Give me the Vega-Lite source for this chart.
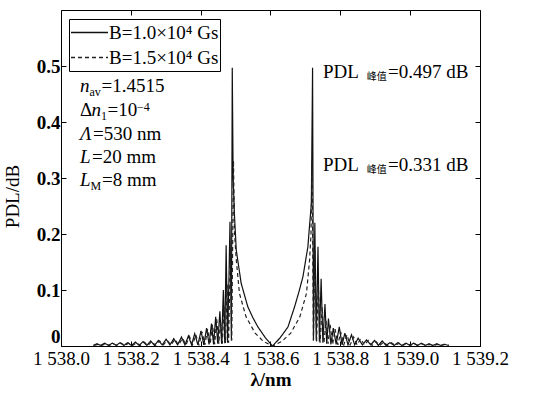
{
  "$schema": "https://vega.github.io/schema/vega-lite/v6.json",
  "width": 419,
  "height": 336,
  "autosize": "none",
  "padding": {"left": 61, "top": 10, "right": 56, "bottom": 48},
  "background": "white",
  "config": {
    "view": {"stroke": null},
    "font": "Liberation Serif",
    "axis": {"labelFont": "Liberation Serif", "titleFont": "Liberation Serif", "labelColor": "#000", "titleColor": "#000", "domainColor": "#000", "tickColor": "#000", "grid": false, "labelFontSize": 19, "titleFontSize": 19, "titleFontWeight": "normal"},
    "legend": {"orient": "none", "legendX": 8, "legendY": 9, "labelFont": "Liberation Serif", "labelFontSize": 19, "labelColor": "#000", "symbolType": "stroke", "symbolSize": 1369, "symbolStrokeWidth": 1.3, "strokeColor": "#000", "padding": 1, "rowPadding": 0, "clipHeight": 25, "labelOffset": 0, "cornerRadius": 0}
  },
  "datasets": {
    "curves": [
      {"lambda": 1538.092, "pdl": 0.001, "B": "B=1.0×10⁴ Gs"},
      {"lambda": 1538.103, "pdl": 0.004, "B": "B=1.0×10⁴ Gs"},
      {"lambda": 1538.114, "pdl": 0.001, "B": "B=1.0×10⁴ Gs"},
      {"lambda": 1538.125, "pdl": 0.005, "B": "B=1.0×10⁴ Gs"},
      {"lambda": 1538.136, "pdl": 0.001, "B": "B=1.0×10⁴ Gs"},
      {"lambda": 1538.147, "pdl": 0.005, "B": "B=1.0×10⁴ Gs"},
      {"lambda": 1538.158, "pdl": 0.001, "B": "B=1.0×10⁴ Gs"},
      {"lambda": 1538.169, "pdl": 0.006, "B": "B=1.0×10⁴ Gs"},
      {"lambda": 1538.180, "pdl": 0.001, "B": "B=1.0×10⁴ Gs"},
      {"lambda": 1538.191, "pdl": 0.006, "B": "B=1.0×10⁴ Gs"},
      {"lambda": 1538.202, "pdl": 0.001, "B": "B=1.0×10⁴ Gs"},
      {"lambda": 1538.213, "pdl": 0.007, "B": "B=1.0×10⁴ Gs"},
      {"lambda": 1538.224, "pdl": 0.001, "B": "B=1.0×10⁴ Gs"},
      {"lambda": 1538.235, "pdl": 0.008, "B": "B=1.0×10⁴ Gs"},
      {"lambda": 1538.246, "pdl": 0.001, "B": "B=1.0×10⁴ Gs"},
      {"lambda": 1538.257, "pdl": 0.009, "B": "B=1.0×10⁴ Gs"},
      {"lambda": 1538.268, "pdl": 0.001, "B": "B=1.0×10⁴ Gs"},
      {"lambda": 1538.279, "pdl": 0.010, "B": "B=1.0×10⁴ Gs"},
      {"lambda": 1538.290, "pdl": 0.002, "B": "B=1.0×10⁴ Gs"},
      {"lambda": 1538.301, "pdl": 0.012, "B": "B=1.0×10⁴ Gs"},
      {"lambda": 1538.312, "pdl": 0.002, "B": "B=1.0×10⁴ Gs"},
      {"lambda": 1538.323, "pdl": 0.013, "B": "B=1.0×10⁴ Gs"},
      {"lambda": 1538.334, "pdl": 0.002, "B": "B=1.0×10⁴ Gs"},
      {"lambda": 1538.345, "pdl": 0.016, "B": "B=1.0×10⁴ Gs"},
      {"lambda": 1538.355, "pdl": 0.002, "B": "B=1.0×10⁴ Gs"},
      {"lambda": 1538.365, "pdl": 0.018, "B": "B=1.0×10⁴ Gs"},
      {"lambda": 1538.374, "pdl": 0.002, "B": "B=1.0×10⁴ Gs"},
      {"lambda": 1538.383, "pdl": 0.022, "B": "B=1.0×10⁴ Gs"},
      {"lambda": 1538.392, "pdl": 0.002, "B": "B=1.0×10⁴ Gs"},
      {"lambda": 1538.401, "pdl": 0.027, "B": "B=1.0×10⁴ Gs"},
      {"lambda": 1538.409, "pdl": 0.002, "B": "B=1.0×10⁴ Gs"},
      {"lambda": 1538.417, "pdl": 0.032, "B": "B=1.0×10⁴ Gs"},
      {"lambda": 1538.424, "pdl": 0.003, "B": "B=1.0×10⁴ Gs"},
      {"lambda": 1538.431, "pdl": 0.040, "B": "B=1.0×10⁴ Gs"},
      {"lambda": 1538.437, "pdl": 0.003, "B": "B=1.0×10⁴ Gs"},
      {"lambda": 1538.443, "pdl": 0.052, "B": "B=1.0×10⁴ Gs"},
      {"lambda": 1538.449, "pdl": 0.004, "B": "B=1.0×10⁴ Gs"},
      {"lambda": 1538.455, "pdl": 0.062, "B": "B=1.0×10⁴ Gs"},
      {"lambda": 1538.460, "pdl": 0.004, "B": "B=1.0×10⁴ Gs"},
      {"lambda": 1538.465, "pdl": 0.100, "B": "B=1.0×10⁴ Gs"},
      {"lambda": 1538.469, "pdl": 0.005, "B": "B=1.0×10⁴ Gs"},
      {"lambda": 1538.473, "pdl": 0.180, "B": "B=1.0×10⁴ Gs"},
      {"lambda": 1538.477, "pdl": 0.006, "B": "B=1.0×10⁴ Gs"},
      {"lambda": 1538.481, "pdl": 0.120, "B": "B=1.0×10⁴ Gs"},
      {"lambda": 1538.484, "pdl": 0.222, "B": "B=1.0×10⁴ Gs"},
      {"lambda": 1538.488, "pdl": 0.010, "B": "B=1.0×10⁴ Gs"},
      {"lambda": 1538.4905, "pdl": 0.497, "B": "B=1.0×10⁴ Gs"},
      {"lambda": 1538.493, "pdl": 0.300, "B": "B=1.0×10⁴ Gs"},
      {"lambda": 1538.497, "pdl": 0.231, "B": "B=1.0×10⁴ Gs"},
      {"lambda": 1538.502, "pdl": 0.171, "B": "B=1.0×10⁴ Gs"},
      {"lambda": 1538.516, "pdl": 0.112, "B": "B=1.0×10⁴ Gs"},
      {"lambda": 1538.535, "pdl": 0.070, "B": "B=1.0×10⁴ Gs"},
      {"lambda": 1538.550, "pdl": 0.050, "B": "B=1.0×10⁴ Gs"},
      {"lambda": 1538.564, "pdl": 0.034, "B": "B=1.0×10⁴ Gs"},
      {"lambda": 1538.585, "pdl": 0.015, "B": "B=1.0×10⁴ Gs"},
      {"lambda": 1538.606, "pdl": 0.000, "B": "B=1.0×10⁴ Gs"},
      {"lambda": 1538.628, "pdl": 0.015, "B": "B=1.0×10⁴ Gs"},
      {"lambda": 1538.650, "pdl": 0.034, "B": "B=1.0×10⁴ Gs"},
      {"lambda": 1538.669, "pdl": 0.070, "B": "B=1.0×10⁴ Gs"},
      {"lambda": 1538.682, "pdl": 0.098, "B": "B=1.0×10⁴ Gs"},
      {"lambda": 1538.693, "pdl": 0.124, "B": "B=1.0×10⁴ Gs"},
      {"lambda": 1538.707, "pdl": 0.177, "B": "B=1.0×10⁴ Gs"},
      {"lambda": 1538.717, "pdl": 0.255, "B": "B=1.0×10⁴ Gs"},
      {"lambda": 1538.7205, "pdl": 0.497, "B": "B=1.0×10⁴ Gs"},
      {"lambda": 1538.723, "pdl": 0.010, "B": "B=1.0×10⁴ Gs"},
      {"lambda": 1538.727, "pdl": 0.220, "B": "B=1.0×10⁴ Gs"},
      {"lambda": 1538.731, "pdl": 0.010, "B": "B=1.0×10⁴ Gs"},
      {"lambda": 1538.736, "pdl": 0.177, "B": "B=1.0×10⁴ Gs"},
      {"lambda": 1538.740, "pdl": 0.008, "B": "B=1.0×10⁴ Gs"},
      {"lambda": 1538.745, "pdl": 0.120, "B": "B=1.0×10⁴ Gs"},
      {"lambda": 1538.750, "pdl": 0.006, "B": "B=1.0×10⁴ Gs"},
      {"lambda": 1538.756, "pdl": 0.075, "B": "B=1.0×10⁴ Gs"},
      {"lambda": 1538.761, "pdl": 0.004, "B": "B=1.0×10⁴ Gs"},
      {"lambda": 1538.766, "pdl": 0.049, "B": "B=1.0×10⁴ Gs"},
      {"lambda": 1538.773, "pdl": 0.003, "B": "B=1.0×10⁴ Gs"},
      {"lambda": 1538.780, "pdl": 0.032, "B": "B=1.0×10⁴ Gs"},
      {"lambda": 1538.788, "pdl": 0.003, "B": "B=1.0×10⁴ Gs"},
      {"lambda": 1538.797, "pdl": 0.034, "B": "B=1.0×10⁴ Gs"},
      {"lambda": 1538.805, "pdl": 0.002, "B": "B=1.0×10⁴ Gs"},
      {"lambda": 1538.813, "pdl": 0.023, "B": "B=1.0×10⁴ Gs"},
      {"lambda": 1538.822, "pdl": 0.002, "B": "B=1.0×10⁴ Gs"},
      {"lambda": 1538.832, "pdl": 0.020, "B": "B=1.0×10⁴ Gs"},
      {"lambda": 1538.841, "pdl": 0.002, "B": "B=1.0×10⁴ Gs"},
      {"lambda": 1538.851, "pdl": 0.014, "B": "B=1.0×10⁴ Gs"},
      {"lambda": 1538.863, "pdl": 0.002, "B": "B=1.0×10⁴ Gs"},
      {"lambda": 1538.875, "pdl": 0.011, "B": "B=1.0×10⁴ Gs"},
      {"lambda": 1538.887, "pdl": 0.002, "B": "B=1.0×10⁴ Gs"},
      {"lambda": 1538.898, "pdl": 0.010, "B": "B=1.0×10⁴ Gs"},
      {"lambda": 1538.909, "pdl": 0.001, "B": "B=1.0×10⁴ Gs"},
      {"lambda": 1538.920, "pdl": 0.009, "B": "B=1.0×10⁴ Gs"},
      {"lambda": 1538.931, "pdl": 0.001, "B": "B=1.0×10⁴ Gs"},
      {"lambda": 1538.942, "pdl": 0.006, "B": "B=1.0×10⁴ Gs"},
      {"lambda": 1538.954, "pdl": 0.001, "B": "B=1.0×10⁴ Gs"},
      {"lambda": 1538.965, "pdl": 0.006, "B": "B=1.0×10⁴ Gs"},
      {"lambda": 1538.976, "pdl": 0.001, "B": "B=1.0×10⁴ Gs"},
      {"lambda": 1538.988, "pdl": 0.005, "B": "B=1.0×10⁴ Gs"},
      {"lambda": 1538.999, "pdl": 0.001, "B": "B=1.0×10⁴ Gs"},
      {"lambda": 1539.010, "pdl": 0.005, "B": "B=1.0×10⁴ Gs"},
      {"lambda": 1539.021, "pdl": 0.001, "B": "B=1.0×10⁴ Gs"},
      {"lambda": 1539.032, "pdl": 0.005, "B": "B=1.0×10⁴ Gs"},
      {"lambda": 1539.043, "pdl": 0.001, "B": "B=1.0×10⁴ Gs"},
      {"lambda": 1539.054, "pdl": 0.004, "B": "B=1.0×10⁴ Gs"},
      {"lambda": 1539.065, "pdl": 0.001, "B": "B=1.0×10⁴ Gs"},
      {"lambda": 1539.076, "pdl": 0.004, "B": "B=1.0×10⁴ Gs"},
      {"lambda": 1539.087, "pdl": 0.001, "B": "B=1.0×10⁴ Gs"},
      {"lambda": 1539.098, "pdl": 0.003, "B": "B=1.0×10⁴ Gs"},
      {"lambda": 1539.110, "pdl": 0.001, "B": "B=1.0×10⁴ Gs"},

      {"lambda": 1538.095, "pdl": 0.001, "B": "B=1.5×10⁴ Gs"},
      {"lambda": 1538.106, "pdl": 0.003, "B": "B=1.5×10⁴ Gs"},
      {"lambda": 1538.117, "pdl": 0.001, "B": "B=1.5×10⁴ Gs"},
      {"lambda": 1538.128, "pdl": 0.004, "B": "B=1.5×10⁴ Gs"},
      {"lambda": 1538.139, "pdl": 0.001, "B": "B=1.5×10⁴ Gs"},
      {"lambda": 1538.150, "pdl": 0.004, "B": "B=1.5×10⁴ Gs"},
      {"lambda": 1538.161, "pdl": 0.001, "B": "B=1.5×10⁴ Gs"},
      {"lambda": 1538.172, "pdl": 0.005, "B": "B=1.5×10⁴ Gs"},
      {"lambda": 1538.183, "pdl": 0.001, "B": "B=1.5×10⁴ Gs"},
      {"lambda": 1538.194, "pdl": 0.005, "B": "B=1.5×10⁴ Gs"},
      {"lambda": 1538.205, "pdl": 0.001, "B": "B=1.5×10⁴ Gs"},
      {"lambda": 1538.216, "pdl": 0.006, "B": "B=1.5×10⁴ Gs"},
      {"lambda": 1538.227, "pdl": 0.001, "B": "B=1.5×10⁴ Gs"},
      {"lambda": 1538.238, "pdl": 0.007, "B": "B=1.5×10⁴ Gs"},
      {"lambda": 1538.249, "pdl": 0.001, "B": "B=1.5×10⁴ Gs"},
      {"lambda": 1538.260, "pdl": 0.008, "B": "B=1.5×10⁴ Gs"},
      {"lambda": 1538.271, "pdl": 0.001, "B": "B=1.5×10⁴ Gs"},
      {"lambda": 1538.282, "pdl": 0.009, "B": "B=1.5×10⁴ Gs"},
      {"lambda": 1538.293, "pdl": 0.002, "B": "B=1.5×10⁴ Gs"},
      {"lambda": 1538.304, "pdl": 0.010, "B": "B=1.5×10⁴ Gs"},
      {"lambda": 1538.315, "pdl": 0.002, "B": "B=1.5×10⁴ Gs"},
      {"lambda": 1538.326, "pdl": 0.012, "B": "B=1.5×10⁴ Gs"},
      {"lambda": 1538.337, "pdl": 0.002, "B": "B=1.5×10⁴ Gs"},
      {"lambda": 1538.348, "pdl": 0.014, "B": "B=1.5×10⁴ Gs"},
      {"lambda": 1538.358, "pdl": 0.002, "B": "B=1.5×10⁴ Gs"},
      {"lambda": 1538.368, "pdl": 0.017, "B": "B=1.5×10⁴ Gs"},
      {"lambda": 1538.377, "pdl": 0.002, "B": "B=1.5×10⁴ Gs"},
      {"lambda": 1538.386, "pdl": 0.020, "B": "B=1.5×10⁴ Gs"},
      {"lambda": 1538.395, "pdl": 0.002, "B": "B=1.5×10⁴ Gs"},
      {"lambda": 1538.404, "pdl": 0.025, "B": "B=1.5×10⁴ Gs"},
      {"lambda": 1538.412, "pdl": 0.002, "B": "B=1.5×10⁴ Gs"},
      {"lambda": 1538.420, "pdl": 0.030, "B": "B=1.5×10⁴ Gs"},
      {"lambda": 1538.427, "pdl": 0.003, "B": "B=1.5×10⁴ Gs"},
      {"lambda": 1538.434, "pdl": 0.038, "B": "B=1.5×10⁴ Gs"},
      {"lambda": 1538.440, "pdl": 0.003, "B": "B=1.5×10⁴ Gs"},
      {"lambda": 1538.446, "pdl": 0.048, "B": "B=1.5×10⁴ Gs"},
      {"lambda": 1538.452, "pdl": 0.004, "B": "B=1.5×10⁴ Gs"},
      {"lambda": 1538.457, "pdl": 0.045, "B": "B=1.5×10⁴ Gs"},
      {"lambda": 1538.462, "pdl": 0.004, "B": "B=1.5×10⁴ Gs"},
      {"lambda": 1538.467, "pdl": 0.070, "B": "B=1.5×10⁴ Gs"},
      {"lambda": 1538.471, "pdl": 0.005, "B": "B=1.5×10⁴ Gs"},
      {"lambda": 1538.476, "pdl": 0.110, "B": "B=1.5×10⁴ Gs"},
      {"lambda": 1538.480, "pdl": 0.006, "B": "B=1.5×10⁴ Gs"},
      {"lambda": 1538.485, "pdl": 0.170, "B": "B=1.5×10⁴ Gs"},
      {"lambda": 1538.489, "pdl": 0.010, "B": "B=1.5×10⁴ Gs"},
      {"lambda": 1538.494, "pdl": 0.331, "B": "B=1.5×10⁴ Gs"},
      {"lambda": 1538.497, "pdl": 0.200, "B": "B=1.5×10⁴ Gs"},
      {"lambda": 1538.502, "pdl": 0.154, "B": "B=1.5×10⁴ Gs"},
      {"lambda": 1538.511, "pdl": 0.094, "B": "B=1.5×10⁴ Gs"},
      {"lambda": 1538.530, "pdl": 0.052, "B": "B=1.5×10⁴ Gs"},
      {"lambda": 1538.556, "pdl": 0.023, "B": "B=1.5×10⁴ Gs"},
      {"lambda": 1538.580, "pdl": 0.008, "B": "B=1.5×10⁴ Gs"},
      {"lambda": 1538.606, "pdl": 0.000, "B": "B=1.5×10⁴ Gs"},
      {"lambda": 1538.632, "pdl": 0.008, "B": "B=1.5×10⁴ Gs"},
      {"lambda": 1538.658, "pdl": 0.023, "B": "B=1.5×10⁴ Gs"},
      {"lambda": 1538.684, "pdl": 0.052, "B": "B=1.5×10⁴ Gs"},
      {"lambda": 1538.703, "pdl": 0.094, "B": "B=1.5×10⁴ Gs"},
      {"lambda": 1538.712, "pdl": 0.154, "B": "B=1.5×10⁴ Gs"},
      {"lambda": 1538.716, "pdl": 0.200, "B": "B=1.5×10⁴ Gs"},
      {"lambda": 1538.719, "pdl": 0.331, "B": "B=1.5×10⁴ Gs"},
      {"lambda": 1538.723, "pdl": 0.010, "B": "B=1.5×10⁴ Gs"},
      {"lambda": 1538.727, "pdl": 0.170, "B": "B=1.5×10⁴ Gs"},
      {"lambda": 1538.732, "pdl": 0.008, "B": "B=1.5×10⁴ Gs"},
      {"lambda": 1538.737, "pdl": 0.110, "B": "B=1.5×10⁴ Gs"},
      {"lambda": 1538.742, "pdl": 0.006, "B": "B=1.5×10⁴ Gs"},
      {"lambda": 1538.748, "pdl": 0.070, "B": "B=1.5×10⁴ Gs"},
      {"lambda": 1538.753, "pdl": 0.005, "B": "B=1.5×10⁴ Gs"},
      {"lambda": 1538.759, "pdl": 0.045, "B": "B=1.5×10⁴ Gs"},
      {"lambda": 1538.765, "pdl": 0.004, "B": "B=1.5×10⁴ Gs"},
      {"lambda": 1538.771, "pdl": 0.038, "B": "B=1.5×10⁴ Gs"},
      {"lambda": 1538.778, "pdl": 0.003, "B": "B=1.5×10⁴ Gs"},
      {"lambda": 1538.785, "pdl": 0.030, "B": "B=1.5×10⁴ Gs"},
      {"lambda": 1538.793, "pdl": 0.002, "B": "B=1.5×10⁴ Gs"},
      {"lambda": 1538.801, "pdl": 0.025, "B": "B=1.5×10⁴ Gs"},
      {"lambda": 1538.810, "pdl": 0.002, "B": "B=1.5×10⁴ Gs"},
      {"lambda": 1538.819, "pdl": 0.020, "B": "B=1.5×10⁴ Gs"},
      {"lambda": 1538.828, "pdl": 0.002, "B": "B=1.5×10⁴ Gs"},
      {"lambda": 1538.838, "pdl": 0.016, "B": "B=1.5×10⁴ Gs"},
      {"lambda": 1538.848, "pdl": 0.002, "B": "B=1.5×10⁴ Gs"},
      {"lambda": 1538.858, "pdl": 0.013, "B": "B=1.5×10⁴ Gs"},
      {"lambda": 1538.869, "pdl": 0.002, "B": "B=1.5×10⁴ Gs"},
      {"lambda": 1538.880, "pdl": 0.010, "B": "B=1.5×10⁴ Gs"},
      {"lambda": 1538.891, "pdl": 0.001, "B": "B=1.5×10⁴ Gs"},
      {"lambda": 1538.902, "pdl": 0.008, "B": "B=1.5×10⁴ Gs"},
      {"lambda": 1538.913, "pdl": 0.001, "B": "B=1.5×10⁴ Gs"},
      {"lambda": 1538.924, "pdl": 0.007, "B": "B=1.5×10⁴ Gs"},
      {"lambda": 1538.935, "pdl": 0.001, "B": "B=1.5×10⁴ Gs"},
      {"lambda": 1538.946, "pdl": 0.006, "B": "B=1.5×10⁴ Gs"},
      {"lambda": 1538.957, "pdl": 0.001, "B": "B=1.5×10⁴ Gs"},
      {"lambda": 1538.968, "pdl": 0.005, "B": "B=1.5×10⁴ Gs"},
      {"lambda": 1538.979, "pdl": 0.001, "B": "B=1.5×10⁴ Gs"},
      {"lambda": 1538.990, "pdl": 0.005, "B": "B=1.5×10⁴ Gs"},
      {"lambda": 1539.001, "pdl": 0.001, "B": "B=1.5×10⁴ Gs"},
      {"lambda": 1539.012, "pdl": 0.004, "B": "B=1.5×10⁴ Gs"},
      {"lambda": 1539.023, "pdl": 0.001, "B": "B=1.5×10⁴ Gs"},
      {"lambda": 1539.034, "pdl": 0.004, "B": "B=1.5×10⁴ Gs"},
      {"lambda": 1539.045, "pdl": 0.001, "B": "B=1.5×10⁴ Gs"},
      {"lambda": 1539.056, "pdl": 0.003, "B": "B=1.5×10⁴ Gs"},
      {"lambda": 1539.067, "pdl": 0.001, "B": "B=1.5×10⁴ Gs"},
      {"lambda": 1539.078, "pdl": 0.003, "B": "B=1.5×10⁴ Gs"},
      {"lambda": 1539.089, "pdl": 0.001, "B": "B=1.5×10⁴ Gs"},
      {"lambda": 1539.100, "pdl": 0.003, "B": "B=1.5×10⁴ Gs"},
      {"lambda": 1539.111, "pdl": 0.001, "B": "B=1.5×10⁴ Gs"}
    ],
    "notes": [
      {"lambda": 1538.0544, "pdl": 0.4536, "text": "n", "kind": "italic"},
      {"lambda": 1538.0816, "pdl": 0.4465, "text": "av", "kind": "sub"},
      {"lambda": 1538.1162, "pdl": 0.4536, "text": "=1.4515", "kind": "plain"},
      {"lambda": 1538.0544, "pdl": 0.4107, "text": "Δ", "kind": "plain"},
      {"lambda": 1538.0876, "pdl": 0.4107, "text": "n", "kind": "italic"},
      {"lambda": 1538.1146, "pdl": 0.4036, "text": "1", "kind": "sub"},
      {"lambda": 1538.1332, "pdl": 0.4107, "text": "=10", "kind": "plain"},
      {"lambda": 1538.2177, "pdl": 0.4200, "text": "−4", "kind": "sub"},
      {"lambda": 1538.0544, "pdl": 0.3679, "text": "Λ", "kind": "italic"},
      {"lambda": 1538.0916, "pdl": 0.3679, "text": "=530 nm", "kind": "plain"},
      {"lambda": 1538.0544, "pdl": 0.3268, "text": "L", "kind": "italic"},
      {"lambda": 1538.0888, "pdl": 0.3268, "text": "=20 mm", "kind": "plain"},
      {"lambda": 1538.0544, "pdl": 0.2857, "text": "L", "kind": "italic"},
      {"lambda": 1538.0845, "pdl": 0.2786, "text": "M", "kind": "sub"},
      {"lambda": 1538.1174, "pdl": 0.2857, "text": "=8 mm", "kind": "plain"},
      {"lambda": 1538.7503, "pdl": 0.479, "text": "PDL", "kind": "plain"},
      {"lambda": 1538.8755, "pdl": 0.475, "text": "峰值", "kind": "cjk"},
      {"lambda": 1538.9365, "pdl": 0.479, "text": "=0.497 dB", "kind": "plain"},
      {"lambda": 1538.7503, "pdl": 0.3125, "text": "PDL", "kind": "plain"},
      {"lambda": 1538.8755, "pdl": 0.309, "text": "峰值", "kind": "cjk"},
      {"lambda": 1538.9365, "pdl": 0.3125, "text": "=0.331 dB", "kind": "plain"}
    ]
  },
  "layer": [
    {
      "data": {"name": "curves"},
      "mark": {"type": "line", "strokeWidth": 1.2, "interpolate": "linear"},
      "encoding": {
        "x": {"field": "lambda", "type": "quantitative", "scale": {"domain": [1538, 1539.2], "nice": false, "zero": false},
              "axis": {"orient": "bottom", "title": "λ/nm", "titleFontWeight": "bold", "values": [1538, 1538.2, 1538.4, 1538.6, 1538.8, 1539, 1539.2], "labelExpr": "'1 ' + slice(format(datum.value, '.1f'), 1)", "tickSize": -5, "labelPadding": 8, "labelOverlap": false, "labelFlush": false, "titlePadding": 2}},
        "y": {"field": "pdl", "type": "quantitative", "scale": {"domain": [0, 0.6], "nice": false},
              "axis": {"orient": "left", "title": "PDL/dB", "values": [0, 0.1, 0.2, 0.3, 0.4, 0.5], "labelExpr": "datum.value == 0 ? '0' : format(datum.value, '.1f')", "labelFontWeight": "bold", "labelFlush": true, "tickSize": -5, "labelPadding": 6, "titleX": -39, "titleY": 186}},
        "color": {"field": "B", "type": "nominal", "scale": {"range": ["#111111", "#222222"]}, "legend": {"title": null}},
        "strokeDash": {"field": "B", "type": "nominal", "scale": {"range": [[1, 0], [4, 3]]}, "legend": {"title": null}}
      }
    },
    {
      "data": {"name": "curves"},
      "mark": {"type": "line", "opacity": 0},
      "encoding": {
        "x": {"field": "lambda", "type": "quantitative", "axis": {"orient": "top", "title": null, "labels": false, "values": [1538, 1538.2, 1538.4, 1538.6, 1538.8, 1539, 1539.2], "tickSize": -5}},
        "y": {"field": "pdl", "type": "quantitative", "axis": {"orient": "right", "title": null, "labels": false, "values": [0, 0.1, 0.2, 0.3, 0.4, 0.5], "tickSize": -5}}
      }
    },
    {
      "data": {"name": "notes"},
      "transform": [{"filter": "datum.kind == 'plain'"}],
      "mark": {"type": "text", "align": "left", "baseline": "alphabetic", "font": "Liberation Serif", "fontSize": 19, "color": "#000"},
      "encoding": {"x": {"field": "lambda", "type": "quantitative", "axis": null}, "y": {"field": "pdl", "type": "quantitative", "axis": null}, "text": {"field": "text"}}
    },
    {
      "data": {"name": "notes"},
      "transform": [{"filter": "datum.kind == 'italic'"}],
      "mark": {"type": "text", "align": "left", "baseline": "alphabetic", "font": "Liberation Serif", "fontStyle": "italic", "fontSize": 19, "color": "#000"},
      "encoding": {"x": {"field": "lambda", "type": "quantitative", "axis": null}, "y": {"field": "pdl", "type": "quantitative", "axis": null}, "text": {"field": "text"}}
    },
    {
      "data": {"name": "notes"},
      "transform": [{"filter": "datum.kind == 'sub'"}],
      "mark": {"type": "text", "align": "left", "baseline": "alphabetic", "font": "Liberation Serif", "fontSize": 12, "color": "#000"},
      "encoding": {"x": {"field": "lambda", "type": "quantitative", "axis": null}, "y": {"field": "pdl", "type": "quantitative", "axis": null}, "text": {"field": "text"}}
    },
    {
      "data": {"name": "notes"},
      "transform": [{"filter": "datum.kind == 'cjk'"}],
      "mark": {"type": "text", "align": "left", "baseline": "alphabetic", "font": "Noto Sans CJK SC", "fontSize": 10, "color": "#000"},
      "encoding": {"x": {"field": "lambda", "type": "quantitative", "axis": null}, "y": {"field": "pdl", "type": "quantitative", "axis": null}, "text": {"field": "text"}}
    }
  ],
  "resolve": {"axis": {"x": "independent", "y": "independent"}}
}
